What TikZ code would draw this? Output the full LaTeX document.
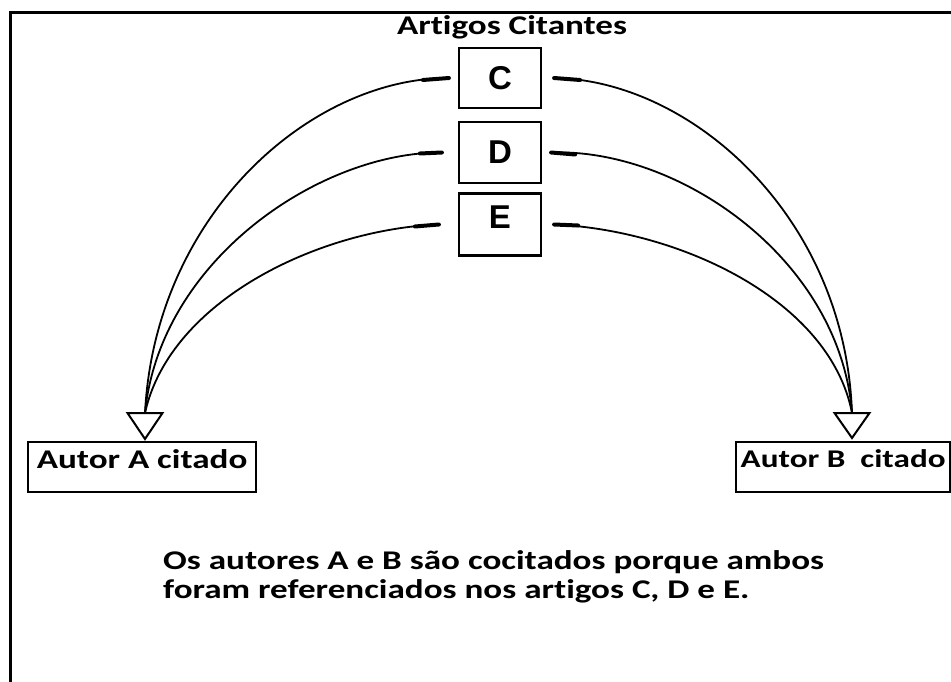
\documentclass[tikz,border=0pt]{standalone}
\usepackage{fontspec}
\setmainfont{Carlito}[FakeStretch=1.3, Ligatures=NoCommon]
\newfontfamily\arialb{Liberation Sans}
\tikzset{
  cit/.style={draw, line width=2.2pt, minimum width=82pt, minimum height=60pt, inner sep=0pt, font=\arialb\bfseries\fontsize{33}{33}\selectfont},
  aut/.style={draw, line width=2.2pt, anchor=north west, minimum height=50pt, inner sep=0pt, text depth=17pt, font=\bfseries\fontsize{27}{27}\selectfont},
  arco/.style={line width=1.8pt},
  toco/.style={line width=4pt, line cap=round},
  tri/.style={line width=2pt, line join=miter},
}
\begin{document}
\begin{tikzpicture}[x=1pt, y=-1pt]
\useasboundingbox (0,0) rectangle (951,682);
\draw[line width=3pt] (10,682) -- (10,13) -- (951,13);
\node[anchor=base, inner sep=0pt, font=\bfseries\fontsize{27}{27}\selectfont] (tit) at (512,35) {Artigos Citantes};
\node[cit, text depth=-4pt] (C) at (500,78) {C};
\node[cit, minimum height=61pt, text depth=-2pt] (D) at (500,152.5) {D};
\node[cit, minimum height=62pt, text depth=15pt] (E) at (500,224.5) {E};
\path (145,413) coordinate (ta) (852,413) coordinate (tb);
\draw[tri] (ta) ++(-17.5,0) -- ++(35,0) -- ++(-17.5,26) coordinate (pa) -- cycle;
\draw[tri] (tb) ++(-17.5,0) -- ++(35,0) -- ++(-17.5,25) coordinate (pb) -- cycle;
\node[aut, minimum width=228pt] (A) at (27,441) {Autor A citado};
\node[aut, minimum width=214pt, font=\bfseries\fontsize{25.5}{25.5}\selectfont] (B) at (735,441) {Autor B\ \ citado};
\draw[arco] ([xshift=-9pt]C.west) .. controls (310,78) and (155,215) .. (ta);
\draw[arco] ([xshift=-16pt]D.west) .. controls (320,152) and (160,260) .. (ta);
\draw[arco] ([xshift=-19pt]E.west) .. controls (320,229) and (170,300) .. (ta);
\draw[arco] ([xshift=12pt]C.east) .. controls (690,80) and (845,215) .. (tb);
\draw[arco] ([xshift=9pt]D.east) .. controls (680,148) and (840,260) .. (tb);
\draw[arco] ([xshift=12pt]E.east) .. controls (680,230) and (830,300) .. (tb);
\draw[toco] ([xshift=-9pt]C.west) -- ++(-26,2);
\draw[toco] ([xshift=-16pt]D.west) -- ++(-22,1);
\draw[toco] ([xshift=-19pt]E.west) -- ++(-24,2);
\draw[toco] ([xshift=12pt]C.east) -- ++(26,2);
\draw[toco] ([xshift=9pt]D.east) -- ++(24,2);
\draw[toco] ([xshift=12pt]E.east) -- ++(24,1);
\node[anchor=base west, inner sep=0pt, align=left, font=\bfseries\fontsize{27}{29}\selectfont] (txt) at (163,598)
  {Os autores A e B são cocitados porque ambos\\foram referenciados nos artigos C, D e E.};
\end{tikzpicture}
\end{document}
